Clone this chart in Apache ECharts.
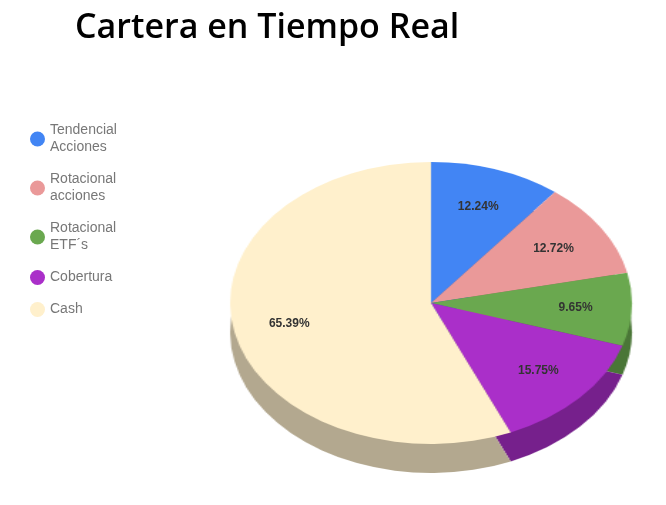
<!DOCTYPE html>
<html><head><meta charset="utf-8">
<script src="https://cdn.jsdelivr.net/npm/echarts@6/dist/echarts.min.js"></script>
<style>html,body{margin:0;background:#fff}
#wrap{position:relative;width:666px;height:505px;overflow:hidden}
#p{position:absolute;left:286px;top:0;width:290px;height:505px;transform-origin:145px 50%;transform:scaleX(1.425)}
#c{position:absolute;left:0;top:0;width:666px;height:505px}</style>
</head><body><div id="wrap"><div id="p"></div><div id="c"></div></div>
<script>
const categories = ['Tendencial\nAcciones', 'Rotacional\nacciones', 'Rotacional\nETF´s', 'Cobertura', 'Cash'];
const values = [12.24, 12.72, 9.65, 15.75, 65.39];
const colors = ['#4285f4', '#ea9999', '#6aa84f', '#aa2fc9', '#fff0cc'];
const sideColors = ['#2d5db0', '#a36b6b', '#4a7637', '#76208c', '#b3a88f'];

const CX = 431, CY = 303, RX = 201, RY = 141;
const pie = echarts.init(document.getElementById('p'));
const common = { type: 'pie', radius: [0, RY], startAngle: 90, clockwise: true, animation: false,
  label: { show: false }, labelLine: { show: false }, silent: true };
pie.setOption({
  series: [
    Object.assign({}, common, { center: [145, CY + 29],
      data: values.map((v, i) => ({ value: v, itemStyle: { color: sideColors[i] } })) }),
    Object.assign({}, common, { center: [145, CY],
      data: values.map((v, i) => ({ value: v, itemStyle: { color: colors[i] } })) })
  ]
});

// label positions derived from the values (midpoint angle of each slice on the ellipse)
const total = values.reduce((a, b) => a + b, 0);
let acc = 0;
const labels = values.map(v => {
  const mid = (acc + v / 2) / total * 2 * Math.PI; acc += v;
  return { type: 'text', x: CX + RX * 0.72 * Math.sin(mid), y: CY - RY * 0.72 * Math.cos(mid),
    style: { text: v.toFixed(2) + '%', align: 'center', verticalAlign: 'middle',
      fill: '#333', font: 'bold 12px Arial' } };
});

const chart = echarts.init(document.getElementById('c'));
chart.setOption({
  title: { text: 'Cartera en Tiempo Real', left: 70, top: 6,
    textStyle: { fontFamily: 'Open Sans', fontWeight: 600, fontSize: 34, color: '#000' } },
  legend: {
    orient: 'vertical', left: 25, top: 117, icon: 'circle', itemWidth: 15, itemHeight: 15,
    itemGap: 15, data: categories,
    textStyle: { color: '#777', fontFamily: 'Arial', fontSize: 14, lineHeight: 17 }
  },
  graphic: labels,
  series: [{ type: 'pie', radius: 0, center: [-100, -100], label: { show: false },
    data: categories.map((c, i) => ({ name: c, value: values[i], itemStyle: { color: colors[i] } })) }]
});
</script></body></html>
